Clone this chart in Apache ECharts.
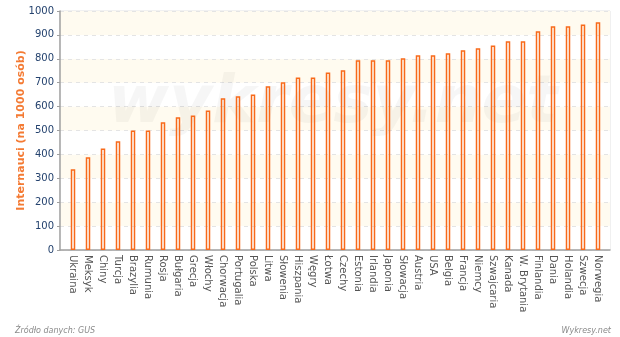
<!DOCTYPE html>
<html>
<head>
<meta charset="utf-8">
<script src="https://cdn.jsdelivr.net/npm/echarts@6/dist/echarts.min.js"></script>
<style>
  html, body { margin: 0; padding: 0; background: #fff; }
  #chart { width: 620px; height: 337px; }
</style>
</head>
<body>
<div id="chart"></div>
<script>
// Internet users per 1000 inhabitants, by country
const countries = [
  'Ukraina', 'Meksyk', 'Chiny', 'Turcja', 'Brazylia', 'Rumunia', 'Rosja', 'Bułgaria',
  'Grecja', 'Włochy', 'Chorwacja', 'Portugalia', 'Polska', 'Litwa', 'Słowenia', 'Hiszpania',
  'Węgry', 'Łotwa', 'Czechy', 'Estonia', 'Irlandia', 'Japonia', 'Słowacja', 'Austria',
  'USA', 'Belgia', 'Francja', 'Niemcy', 'Szwajcaria', 'Kanada', 'W. Brytania', 'Finlandia',
  'Dania', 'Holandia', 'Szwecja', 'Norwegia'
];
const users = [
  338, 388, 425, 455, 500, 500, 534, 555,
  563, 584, 635, 643, 651, 685, 702, 722,
  722, 743, 752, 794, 794, 794, 802, 815,
  815, 823, 836, 844, 856, 873, 873, 915,
  936, 936, 944, 953
];
const yTicks = { min: 0, max: 1000, interval: 100 };
const yAxisTitle = 'Internauci (na 1000 osób)';
const sourceText = 'Źródło danych: GUS';
const brandText = 'Wykresy.net';
const watermarkText = 'wykresy.net';

const orange = '#f86a1a';
const font = 'DejaVu Sans';

const chart = echarts.init(document.getElementById('chart'), null, { renderer: 'canvas' });

chart.setOption({
  animation: false,
  backgroundColor: '#ffffff',
  grid: [
    // frame, bands and value axis
    { left: 60, top: 11, right: 10, bottom: 87, outerBoundsMode: 'none', containLabel: false,
      show: true, borderColor: '#e2e2e2', borderWidth: 1, backgroundColor: 'transparent' },
    // bars and country labels
    { left: 65.5, top: 11, width: 540, bottom: 87, outerBoundsMode: 'none', containLabel: false }
  ],
  graphic: [
    {
      type: 'text', left: 108, top: 72, z: 2, silent: true,
      style: { text: watermarkText, font: 'italic bold 66px ' + font, fill: 'rgba(0,0,0,0.035)' }
    },
    {
      type: 'text', left: 15, top: 327, z: 10,
      style: { text: sourceText, font: 'italic 8px ' + font, fill: '#8a8a8a' }
    },
    {
      type: 'text', right: 9, top: 327, z: 10,
      style: { text: brandText, font: 'italic 8px ' + font, fill: '#8a8a8a' }
    }
  ],
  xAxis: [
    {
      gridIndex: 0, type: 'value', min: 0, max: 1,
      axisLine: { show: true, onZero: false, lineStyle: { color: '#a0a0a0', width: 1.5 } },
      axisTick: { show: false }, axisLabel: { show: false }, splitLine: { show: false }
    },
    {
      gridIndex: 1, type: 'category', data: countries,
      axisLine: { show: false }, axisTick: { show: false },
      axisLabel: {
        rotate: -90, interval: 0, margin: 5, color: '#555555',
        fontFamily: font, fontSize: 10
      }
    }
  ],
  yAxis: [
    {
      gridIndex: 0, type: 'value', min: yTicks.min, max: yTicks.max, interval: yTicks.interval,
      name: yAxisTitle, nameLocation: 'middle', nameGap: 33, nameRotate: 90, nameMoveOverlap: false,
      nameTextStyle: { color: '#f47a33', fontFamily: font, fontSize: 11, fontWeight: 'bold' },
      axisLine: { show: true, lineStyle: { color: '#a0a0a0', width: 1.5 } },
      axisTick: { show: true, length: 3, lineStyle: { color: '#a0a0a0' } },
      axisLabel: { color: '#24426e', fontFamily: font, fontSize: 10, margin: 6,
                   formatter: v => String(v) },
      splitLine: { show: true, lineStyle: { color: '#e4e4e4', type: [4, 4], width: 1 } },
      splitArea: { show: true, areaStyle: { color: ['#ffffff', '#fffbf0'] } }
    },
    {
      gridIndex: 1, type: 'value', min: yTicks.min, max: yTicks.max, show: false,
      splitLine: { show: false }
    }
  ],
  series: [
    {
      type: 'bar', xAxisIndex: 1, yAxisIndex: 1, data: users, z: 3,
      barWidth: 4.5,
      itemStyle: { color: 'rgba(255,255,255,0)', borderColor: orange, borderWidth: 1.5 }
    }
  ]
});
</script>
</body>
</html>
